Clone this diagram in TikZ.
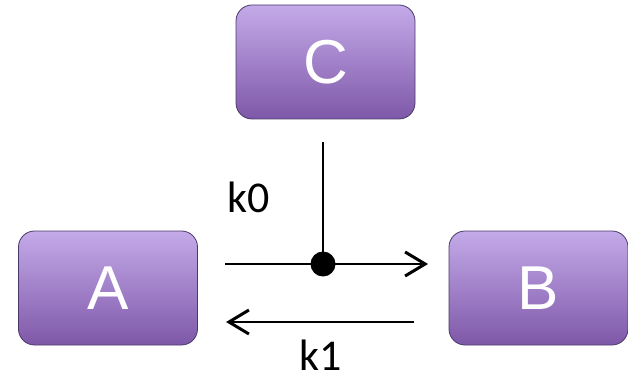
\documentclass[tikz,border=0pt]{standalone}
\usepackage{fontspec}
\setmainfont{Liberation Sans}
\newfontfamily\calfont{Carlito}
\usetikzlibrary{arrows.meta}
\definecolor{boxtop}{HTML}{C4AAE9}
\definecolor{boxbot}{HTML}{7E58A8}
\definecolor{boxedge}{HTML}{4A3A6A}
\begin{document}
\begin{tikzpicture}[x=1pt,y=-1pt,
  box/.style={rectangle, rounded corners=16pt, minimum width=179pt, minimum height=114pt,
    top color=boxtop, bottom color=boxbot, draw=boxedge, line width=0.8pt,
    text=white, font=\fontsize{62}{62}\selectfont, inner sep=0pt},
  conn/.style={line width=2pt},
  tip/.style={-{Straight Barb[length=20pt,width=24pt,line width=3pt]}},
  lbl/.style={font=\calfont\fontsize{44}{44}\selectfont, text=black, inner sep=0pt}]
\useasboundingbox (0,0) rectangle (628,379);
\node[box] (C) at (325.5,62) {C};
\node[box] (A) at (108,288) {A};
\node[box] (B) at (538.5,288) {B};
\coordinate (ct) at (323,142);
\coordinate (j) at (323,264);
\coordinate (s1) at (225,264);
\coordinate (e1) at (428,264);
\coordinate (s2) at (414,322);
\coordinate (e2) at (226,322);
\draw[conn] (ct) -- (j);
\draw[conn, tip] (s1) -- (e1);
\draw[conn, tip] (s2) -- (e2);
\fill (j) circle (12.5pt);
\node[lbl] (k0) at (249,197) {k0};
\node[lbl] (k1) at (321,355) {k1};
\end{tikzpicture}
\end{document}
